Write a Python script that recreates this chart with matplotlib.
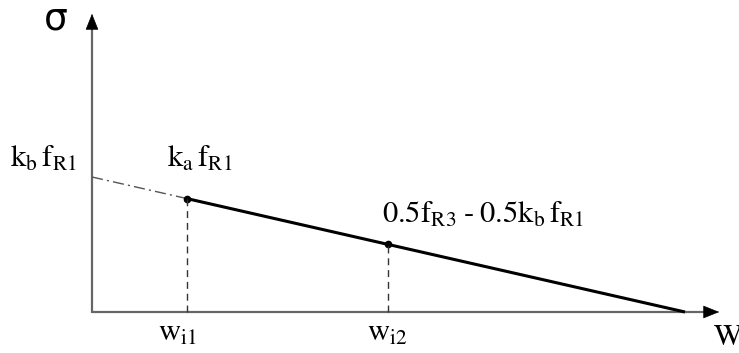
import matplotlib
matplotlib.use("Agg")
import matplotlib.pyplot as plt

# stress-crack width relation, values in drawing units (origin at axes corner)
wKnots = [0, 95, 296, 593]          # 0, w_i1, w_i2, w at zero stress
sigmaKnots = [135, 113.4, 67.6, 0]  # kb*fR1, ka*fR1, 0.5fR3-0.5kb*fR1, 0

tickLabels = [r"$\mathrm{w_{i1}}$", r"$\mathrm{w_{i2}}$"]
tickLeft = [66, 275]
pointLabels = [r"$\mathrm{k_b\,f_{R1}}$", r"$\mathrm{k_a\,f_{R1}}$",
               r"$\mathrm{0.5f_{R3}\;\text{-}\;0.5k_b\,f_{R1}}$"]

plt.rcParams['mathtext.fontset'] = 'stix'
plt.rcParams['font.family'] = 'STIXGeneral'

fig = plt.figure(figsize=(7.39, 3.53), dpi=100)
ax = fig.add_axes([0, 0, 1, 1])
ax.set_xlim(-92, 647)
ax.set_ylim(-41, 312)
ax.axis('off')

axisColor = '#666666'
# axes with arrow heads
ax.plot([0, 0], [-1, 290], color=axisColor, lw=1.6, solid_capstyle='butt')
ax.plot([0, 618], [0, 0], color=axisColor, lw=1.6, solid_capstyle='butt')
headStyle = dict(arrowstyle='-|>,head_length=0.75,head_width=0.3', color='black',
                 lw=0.5, mutation_scale=14)
ax.annotate('', xy=(0, 301), xytext=(0, 288), arrowprops=headStyle)
ax.annotate('', xy=(630, 0), xytext=(616, 0), arrowprops=headStyle)

# extrapolated part (dash-dot) and the softening branch
ax.plot(wKnots[:2], sigmaKnots[:2], color='#555555', lw=1.0, ls=(0, (8, 3, 1.5, 3)))
ax.plot(wKnots[1:], sigmaKnots[1:], color='black', lw=2.2, solid_capstyle='butt')
ax.plot(wKnots[1:3], sigmaKnots[1:3], 'o', color='black', markersize=4.5)

# vertical guides to w_i1, w_i2
for w, s in zip(wKnots[1:3], sigmaKnots[1:3]):
    ax.plot([w, w], [0, s], color='#333333', lw=1.0, ls=(0, (5, 3.5)))

ax.text(-82, 145, pointLabels[0], fontsize=22, ha='left', va='baseline')
ax.text(75, 145, pointLabels[1], fontsize=22, ha='left', va='baseline')
ax.text(290, 89, pointLabels[2], fontsize=22, ha='left', va='baseline')

for x, lab in zip(tickLeft, tickLabels):
    ax.text(x, -29, lab, fontsize=22, ha='left', va='baseline')

ax.text(-36, 292, "σ", fontsize=27, ha='center', va='center',
        family='DejaVu Sans')
ax.text(622, -33, "W", fontsize=22, ha='left', va='baseline')

fig.savefig("out.png", dpi=100)
